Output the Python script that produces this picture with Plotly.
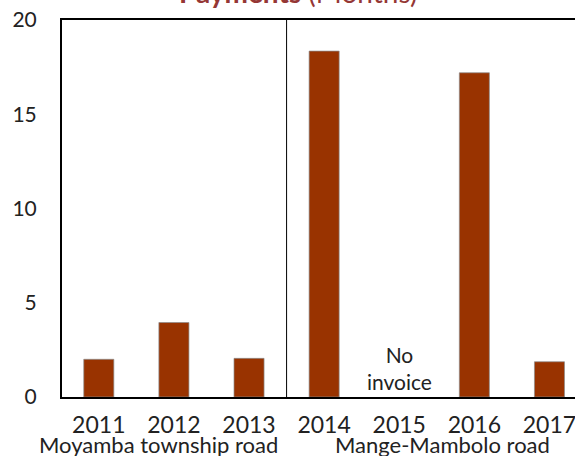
import plotly.graph_objects as go

BAR = "#993300"
TITULO = "#953735"
FONTE = "Lato, Calibri, sans-serif"

anos = ["2011", "2012", "2013", "2014", "2015", "2016", "2017"]
meses = [2.0, 3.95, 2.05, 18.35, None, 17.2, 1.87]
grupos = ["Moyamba township road", "Mange-Mambolo road"]
grupo_pos = [0.79, 4.57]
nota = "No<br>invoice"

fig = go.Figure(go.Bar(
    x=list(range(len(anos))),
    y=meses,
    width=0.4,
    marker=dict(color=BAR, line=dict(color="rgba(140,140,140,0.7)", width=1)),
    hoverinfo="x+y",
))

# divisor entre as duas estradas
fig.add_shape(type="line", xref="x", yref="paper", x0=2.5, x1=2.5, y0=0, y1=1,
              line=dict(color="black", width=1))

for g, p in zip(grupos, grupo_pos):
    fig.add_annotation(text=g, x=p, xref="x", y=-0.125, yref="paper",
                       yanchor="middle", showarrow=False,
                       font=dict(family=FONTE, size=22, color="#222"))

fig.add_annotation(text=nota, x=4, xref="x", y=1.54, yref="y", yanchor="middle",
                   showarrow=False, font=dict(family=FONTE, size=21, color="#222"))

fig.add_annotation(text="<b>Payments</b> (Months)", x=0.461, xref="paper",
                   y=1.02, yref="paper", yanchor="bottom", yshift=1, showarrow=False,
                   font=dict(family=FONTE, size=28, color=TITULO))

fig.update_xaxes(
    range=[-0.49, 6.34], automargin=False, ticklabeloverflow="allow",
    tickvals=list(range(len(anos))), ticktext=anos,
    showline=True, linecolor="black", linewidth=2, mirror=True,
    showgrid=False, zeroline=False, ticks="", ticklabelstandoff=6,
    tickfont=dict(family=FONTE, size=23, color="#222"),
)
fig.update_yaxes(
    range=[0, 20], tickvals=[0, 5, 10, 15, 20], automargin=False,
    showline=True, linecolor="black", linewidth=2,
    showgrid=False, zeroline=False, ticks="", ticklabelstandoff=19,
    tickfont=dict(family=FONTE, size=21, color="#222"),
)
fig.update_layout(
    width=575, height=456,
    margin=dict(l=62, r=0, t=20, b=59),
    paper_bgcolor="white", plot_bgcolor="white",
    showlegend=False,
)
# la pagina tiene margen de 8px por defecto
fig.write_html("out.html", config={"displayModeBar": False},
               post_script="document.body.style.margin='0';")
